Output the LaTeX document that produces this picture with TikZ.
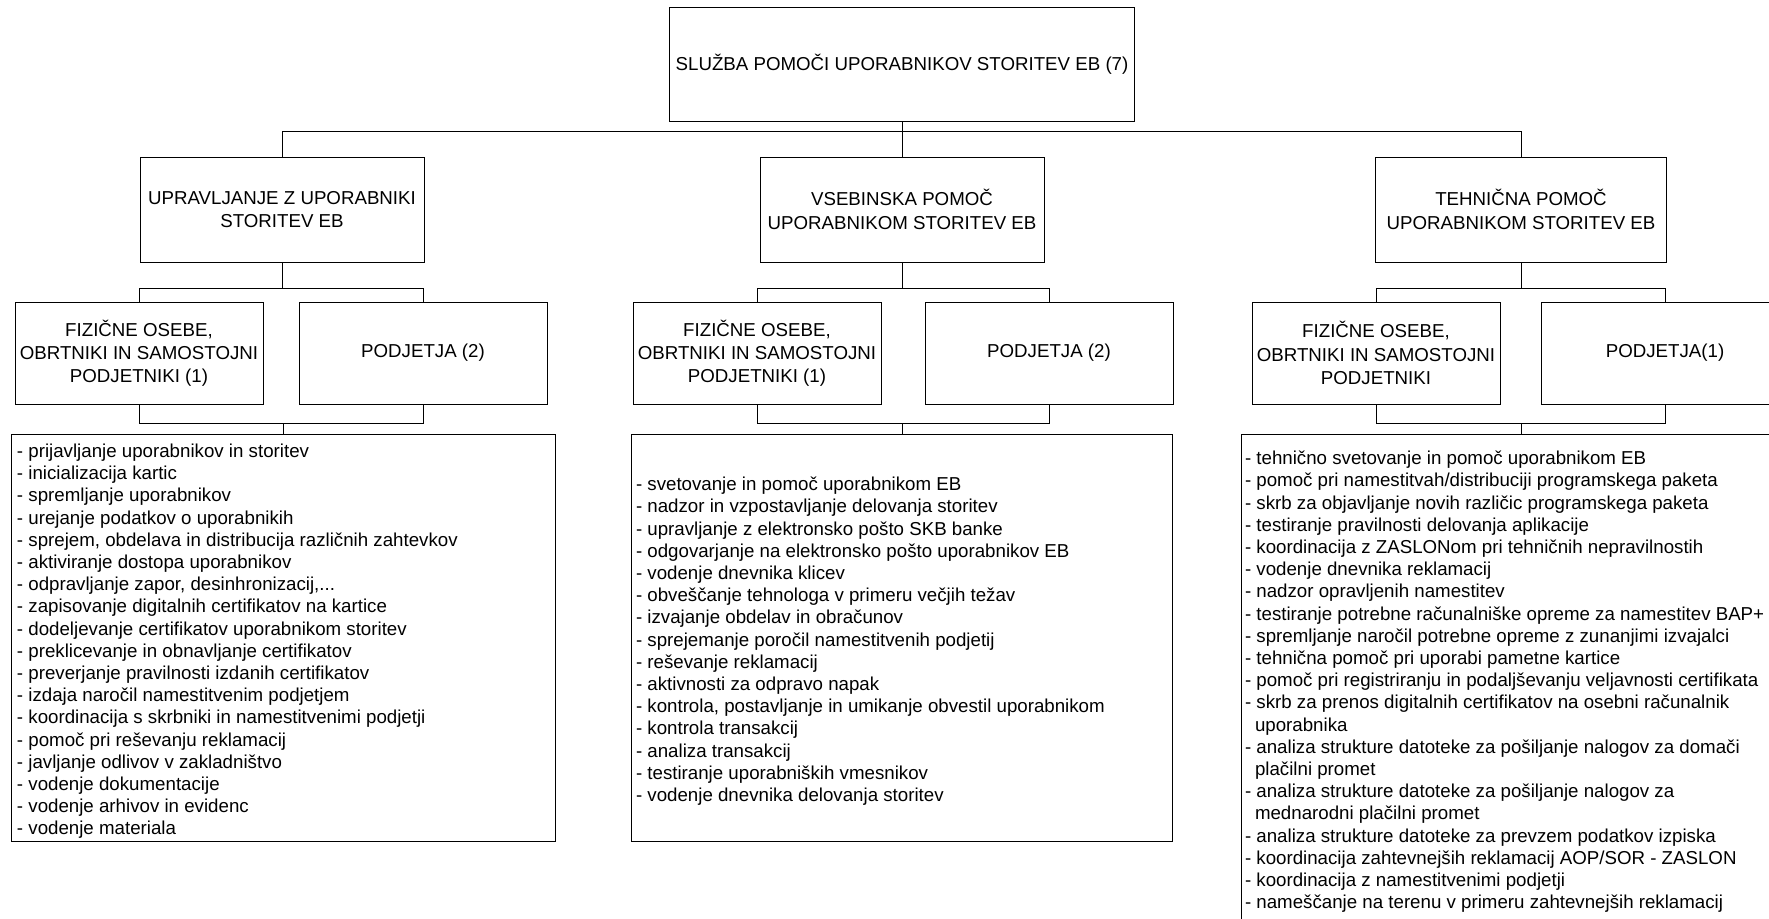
\documentclass[tikz,border=0pt]{standalone}
\usepackage{fontspec}
\setmainfont{Liberation Sans}
\begin{document}
\begin{tikzpicture}[x=0.5pt,y=-0.5pt,
  box/.style={draw=black, line width=0.5pt, inner sep=0pt, outer sep=0pt,
    align=center, font=\fontsize{9.35pt}{11.6pt}\selectfont},
  unitbox/.style={box, minimum width=142pt, minimum height=52.5pt},
  groupbox/.style={box, minimum width=124pt, minimum height=51pt},
  listbox/.style={draw=black, line width=0.5pt, inner sep=0pt, outer sep=0pt},
  listtext/.style={inner sep=0pt, outer sep=0pt, align=left, anchor=north west,
    font=\fontsize{9.35pt}{11.1pt}\selectfont},
  link/.style={draw=black, line width=0.5pt}]
\useasboundingbox (0,0) rectangle (1769,918);
\fill[white] (0,0) rectangle (1769,918);
\clip (0,0) rectangle (1769,918);

% head of the service
\node[box, minimum width=232.5pt, minimum height=57pt] (top) at (902,64)
  {SLUŽBA POMOČI UPORABNIKOV STORITEV EB (7)};

% three units
\node[unitbox] (upr)  at (282,209.5) {UPRAVLJANJE Z UPORABNIKI\\STORITEV EB};
\node[unitbox] (vseb) at (902,209.5) {VSEBINSKA POMOČ\\UPORABNIKOM STORITEV EB};
\node[unitbox, minimum width=145.5pt] (teh) at (1521,209.5) {TEHNIČNA POMOČ\\UPORABNIKOM STORITEV EB};

% user groups
\node[groupbox] (fizA) at (139,353)  {FIZIČNE OSEBE,\\OBRTNIKI IN SAMOSTOJNI\\PODJETNIKI (1)};
\node[groupbox] (podA) at (423,353)  {PODJETJA (2)};
\node[groupbox] (fizB) at (757,353)  {FIZIČNE OSEBE,\\OBRTNIKI IN SAMOSTOJNI\\PODJETNIKI (1)};
\node[groupbox] (podB) at (1049,353) {PODJETJA (2)};
\node[groupbox] (fizC) at (1376,353) {FIZIČNE OSEBE,\\OBRTNIKI IN SAMOSTOJNI\\PODJETNIKI};
\node[groupbox] (podC) at (1665,353) {PODJETJA(1)};

% task lists
\node[listbox, minimum width=272pt, minimum height=203.5pt] (listA) at (283,637.5) {};
\node[listbox, minimum width=270.5pt, minimum height=203.5pt] (listB) at (902,637.5) {};
\node[listbox, minimum width=280pt, minimum height=258pt] (listC) at (1521,692) {};

% connectors
\draw[link] (upr.north) -- ++(0,-26) -| (top.south);
\draw[link] (vseb.north) -- (top.south);
\draw[link] (teh.north) -- ++(0,-26) -| (top.south);

\draw[link] (fizA.north) -- ++(0,-14) -| (upr.south);
\draw[link] (podA.north) -- ++(0,-14) -| (upr.south);
\draw[link] (fizB.north) -- ++(0,-14) -| (vseb.south);
\draw[link] (podB.north) -- ++(0,-14) -| (vseb.south);
\draw[link] (fizC.north) -- ++(0,-14) -| (teh.south);
\draw[link] (podC.north) -- ++(0,-14) -| (teh.south);

\draw[link] (fizA.south) -- ++(0,19) -| (listA.north);
\draw[link] (podA.south) -- ++(0,19) -| (listA.north);
\draw[link] (fizB.south) -- ++(0,19) -| (listB.north);
\draw[link] (podB.south) -- ++(0,19) -| (listB.north);
\draw[link] (fizC.south) -- ++(0,19) -| (listC.north);
\draw[link] (podC.south) -- ++(0,19) -| (listC.north);

% list contents
\node[listtext] (itemsA) at (17,444) {%
- prijavljanje uporabnikov in storitev\\
- inicializacija kartic\\
- spremljanje uporabnikov\\
- urejanje podatkov o uporabnikih\\
- sprejem, obdelava in distribucija različnih zahtevkov\\
- aktiviranje dostopa uporabnikov\\
- odpravljanje zapor, desinhronizacij,...\\
- zapisovanje digitalnih certifikatov na kartice\\
- dodeljevanje certifikatov uporabnikom storitev\\
- preklicevanje in obnavljanje certifikatov\\
- preverjanje pravilnosti izdanih certifikatov\\
- izdaja naročil namestitvenim podjetjem\\
- koordinacija s skrbniki in namestitvenimi podjetji\\
- pomoč pri reševanju reklamacij\\
- javljanje odlivov v zakladništvo\\
- vodenje dokumentacije\\
- vodenje arhivov in evidenc\\
- vodenje materiala};

\node[listtext] (itemsB) at (636,477) {%
- svetovanje in pomoč uporabnikom EB\\
- nadzor in vzpostavljanje delovanja storitev\\
- upravljanje z elektronsko pošto SKB banke\\
- odgovarjanje na elektronsko pošto uporabnikov EB\\
- vodenje dnevnika klicev\\
- obveščanje tehnologa v primeru večjih težav\\
- izvajanje obdelav in obračunov\\
- sprejemanje poročil namestitvenih podjetij\\
- reševanje reklamacij\\
- aktivnosti za odpravo napak\\
- kontrola, postavljanje in umikanje obvestil uporabnikom\\
- kontrola transakcij\\
- analiza transakcij\\
- testiranje uporabniških vmesnikov\\
- vodenje dnevnika delovanja storitev};

\node[listtext] (itemsC) at (1245,451) {%
- tehnično svetovanje in pomoč uporabnikom EB\\
- pomoč pri namestitvah/distribuciji programskega paketa\\
- skrb za objavljanje novih različic programskega paketa\\
- testiranje pravilnosti delovanja aplikacije\\
- koordinacija z ZASLONom pri tehničnih nepravilnostih\\
- vodenje dnevnika reklamacij\\
- nadzor opravljenih namestitev\\
- testiranje potrebne računalniške opreme za namestitev BAP+\\
- spremljanje naročil potrebne opreme z zunanjimi izvajalci\\
- tehnična pomoč pri uporabi pametne kartice\\
- pomoč pri registriranju in podaljševanju veljavnosti certifikata\\
- skrb za prenos digitalnih certifikatov na osebni računalnik\\
\hspace*{5pt}uporabnika\\
- analiza strukture datoteke za pošiljanje nalogov za domači\\
\hspace*{5pt}plačilni promet\\
- analiza strukture datoteke za pošiljanje nalogov za\\
\hspace*{5pt}mednarodni plačilni promet\\
- analiza strukture datoteke za prevzem podatkov izpiska\\
- koordinacija zahtevnejših reklamacij AOP/SOR - ZASLON\\
- koordinacija z namestitvenimi podjetji\\
- nameščanje na terenu v primeru zahtevnejših reklamacij};
\end{tikzpicture}
\end{document}
